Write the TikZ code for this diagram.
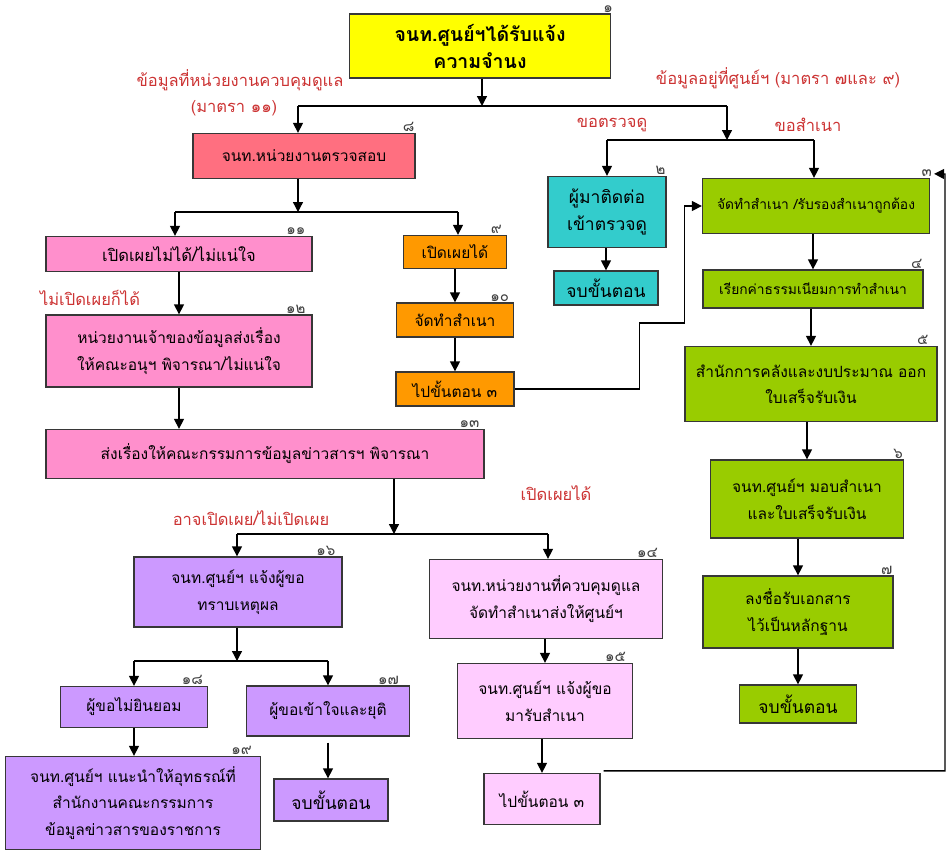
\documentclass[tikz,border=0pt]{standalone}
\usepackage{fontspec}
\newfontfamily\thaifont[Script=Thai]{Loma}
\usepackage{tikz}
\usetikzlibrary{arrows.meta}

\definecolor{boxline}{RGB}{55,55,55}
\definecolor{yelfill}{RGB}{255,255,0}
\definecolor{salfill}{RGB}{255,111,128}
\definecolor{pinkfill}{RGB}{255,143,204}
\definecolor{orgfill}{RGB}{255,153,0}
\definecolor{cyanfill}{RGB}{51,204,204}
\definecolor{grnfill}{RGB}{153,204,0}
\definecolor{purfill}{RGB}{204,153,255}
\definecolor{ltpfill}{RGB}{255,204,255}
\definecolor{lblred}{RGB}{204,51,51}

\begin{document}
\begin{tikzpicture}[x=1pt,y=-1pt,
  box/.style={draw=boxline, line width=1.3pt, align=center, inner sep=0pt,
    font=\thaifont\fontsize{15.5}{26.5}\selectfont},
  bigtxt/.style={font=\thaifont\fontsize{17.5}{27}\selectfont},
  smalltxt/.style={font=\thaifont\fontsize{13.8}{20}\selectfont},
  yel/.style={box, fill=yelfill, font=\thaifont\bfseries\fontsize{19.5}{27}\selectfont},
  sal/.style={box, fill=salfill},
  pnk/.style={box, fill=pinkfill},
  org/.style={box, fill=orgfill},
  cyn/.style={box, fill=cyanfill, bigtxt},
  grn/.style={box, fill=grnfill},
  pur/.style={box, fill=purfill},
  ltp/.style={box, fill=ltpfill},
  num/.style={anchor=south east, inner sep=1pt, text=black!75,
    font=\thaifont\fontsize{15}{15}\selectfont},
  lbl/.style={text=lblred, inner sep=0pt, font=\thaifont\fontsize{16.5}{18}\selectfont},
  ln/.style={line width=1.3pt},
  arr/.style={ln, -{Triangle[length=10pt,width=10pt]}}]

\useasboundingbox (0,0) rectangle (952,851);

% top box and the two paths
\node[yel, minimum width=261pt, minimum height=64pt] (b1) at (480,46) {จนท.ศูนย์ฯได้รับแจ้ง\\ความจำนง};
\node[num] (n1) at ([xshift=3pt]b1.north east) {๑};

\node[lbl] (lA) at (240,80) {ข้อมูลที่หน่วยงานควบคุมดูแล};
\node[lbl] (lB) at (234,108) {(มาตรา ๑๑)};
\node[lbl] (lC) at (778,78) {ข้อมูลอยู่ที่ศูนย์ฯ (มาตรา ๗และ ๙)};
\node[lbl] (lD) at (612,125) {ขอตรวจดู};
\node[lbl] (lE) at (808,125) {ขอสำเนา};

\coordinate (j1) at (482,106);
\coordinate (j1L) at (298,106);
\coordinate (j1R) at (727,106);
\coordinate (j2) at (727,140);
\coordinate (j2L) at (607,140);
\coordinate (j2R) at (814,140);

\draw[arr] (b1.south -| j1) -- (j1);
\draw[ln] (j1L) -- (j1R);
\draw[arr] (j1R) -- (j2);
\draw[ln] (j2L) -- (j2R);

% right hand column (copies)
\node[cyn, minimum width=118pt, minimum height=71pt] (b2) at (607,212) {ผู้มาติดต่อ\\เข้าตรวจดู};
\node[num] (n2) at (b2.north east) {๒};
\node[cyn, minimum width=104pt, minimum height=34pt] (e2) at (606,288) {จบขั้นตอน};

\node[grn, smalltxt, minimum width=227pt, minimum height=55pt] (b3) at (816,206) {จัดทำสำเนา /รับรองสำเนาถูกต้อง};
\node[num] (n3) at ([xshift=3pt]b3.north east) {๓};
\node[grn, smalltxt, minimum width=220pt, minimum height=38pt] (b4) at (813,289) {เรียกค่าธรรมเนียมการทำสำเนา};
\node[num] (n4) at (b4.north east) {๔};
\node[grn, minimum width=252pt, minimum height=75pt] (b5) at (811,384) {สำนักการคลังและงบประมาณ ออก\\ใบเสร็จรับเงิน};
\node[num] (n5) at ([xshift=-8pt]b5.north east) {๕};
\node[grn, minimum width=193pt, minimum height=78pt] (b6) at (807,499) {จนท.ศูนย์ฯ มอบสำเนา\\และใบเสร็จรับเงิน};
\node[num] (n6) at (b6.north east) {๖};
\node[grn, minimum width=190pt, minimum height=72pt] (b7) at (798,612) {ลงชื่อรับเอกสาร\\ไว้เป็นหลักฐาน};
\node[num] (n7) at (b7.north east) {๗};
\node[grn, bigtxt, minimum width=117pt, minimum height=38pt] (e7) at (798,704) {จบขั้นตอน};

\draw[arr] (j2L) -- (j2L |- b2.north);
\draw[arr] (j2R) -- (j2R |- b3.north);
\draw[arr] (b2.south -| e2.north) -- (e2.north);
\foreach \a/\b in {b3/b4,b4/b5,b5/b6,b6/b7,b7/e7}
  \draw[arr] (\a.south -| \b.north) -- (\b.north);

% left hand column (agency)
\node[sal, minimum width=222pt, minimum height=45pt] (b8) at (304,156) {จนท.หน่วยงานตรวจสอบ};
\node[num] (n8) at (b8.north east) {๘};
\draw[arr] (j1L) -- (j1L |- b8.north);

\coordinate (j3) at (298,212);
\coordinate (j3L) at (175,212);
\coordinate (j3R) at (458,212);
\draw[arr] (b8.south -| j3) -- (j3);
\draw[ln] (j3L) -- (j3R);

\node[pnk, font=\thaifont\fontsize{16.5}{26}\selectfont, minimum width=266pt, minimum height=35pt] (b11) at (179,254) {เปิดเผยไม่ได้/ไม่แน่ใจ};
\node[num] (n11) at ([xshift=-6pt]b11.north east) {๑๑};
\node[org, minimum width=103pt, minimum height=33pt] (b9) at (455,252) {เปิดเผยได้};
\node[num] (n9) at ([xshift=-4pt]b9.north east) {๙};
\node[org, minimum width=117pt, minimum height=34pt] (b10) at (455,320) {จัดทำสำเนา};
\node[num] (n10) at ([xshift=-4pt]b10.north east) {๑๐};
\node[org, minimum width=118pt, minimum height=34pt] (g3) at (455,389) {ไปขั้นตอน ๓};

\draw[arr] (j3L) -- (j3L |- b11.north);
\draw[arr] (j3R) -- (j3R |- b9.north);
\draw[arr] (b9) -- (b10);
\draw[arr] (b10) -- (g3);
\draw[arr] (g3.east) -- ++(125,0) |- ++(45,-66) |- (b3.west);

\node[lbl] (lF) at (90,298) {ไม่เปิดเผยก็ได้};
\node[pnk, minimum width=266pt, minimum height=72pt] (b12) at (179,351) {หน่วยงานเจ้าของข้อมูลส่งเรื่อง\\ให้คณะอนุฯ พิจารณา/ไม่แน่ใจ};
\node[num] (n12) at ([xshift=-6pt]b12.north east) {๑๒};
\node[pnk, minimum width=438pt, minimum height=49pt] (b13) at (265,454) {ส่งเรื่องให้คณะกรรมการข้อมูลข่าวสารฯ พิจารณา};
\node[num] (n13) at ([xshift=-4pt]b13.north east) {๑๓};

\draw[arr] (b11.south) -- (b12.north);
\draw[arr] (b12.south) -- (b12.south |- b13.north);

% committee decision
\node[lbl] (lG) at (251,518) {อาจเปิดเผย/ไม่เปิดเผย};
\node[lbl] (lH) at (556,493) {เปิดเผยได้};

\coordinate (j5) at (394,534);
\coordinate (j5L) at (237,534);
\coordinate (j5R) at (548,534);
\draw[arr] (b13.south -| j5) -- (j5);
\draw[ln] (j5L) -- (j5R);

\node[pur, minimum width=208pt, minimum height=70pt] (b16) at (238,592) {จนท.ศูนย์ฯ แจ้งผู้ขอ\\ทราบเหตุผล};
\node[num] (n16) at ([xshift=-6pt]b16.north east) {๑๖};
\node[ltp, minimum width=233pt, minimum height=79pt] (b14) at (546,599) {จนท.หน่วยงานที่ควบคุมดูแล\\จัดทำสำเนาส่งให้ศูนย์ฯ};
\node[num] (n14) at ([xshift=-4pt]b14.north east) {๑๔};
\draw[arr] (j5L) -- (j5L |- b16.north);
\draw[arr] (j5R) -- (j5R |- b14.north);

\coordinate (j6) at (237,661);
\coordinate (j6L) at (134,661);
\coordinate (j6R) at (328,661);
\draw[arr] (b16.south -| j6) -- (j6);
\draw[ln] (j6L) -- (j6R);

\node[pur, minimum width=147pt, minimum height=41pt] (b18) at (134,707) {ผู้ขอไม่ยินยอม};
\node[num] (n18) at ([xshift=-4pt]b18.north east) {๑๘};
\node[pur, minimum width=163pt, minimum height=50pt] (b17) at (328,711) {ผู้ขอเข้าใจและยุติ};
\node[num] (n17) at ([xshift=-10pt]b17.north east) {๑๗};
\node[pur, minimum width=255pt, minimum height=93pt] (b19) at (133,803) {จนท.ศูนย์ฯ แนะนำให้อุทธรณ์ที่\\สำนักงานคณะกรรมการ\\ข้อมูลข่าวสารของราชการ};
\node[num] (n19) at ([xshift=-8pt]b19.north east) {๑๙};
\node[pur, bigtxt, minimum width=114pt, minimum height=42pt] (e17) at (331,800) {จบขั้นตอน};

\draw[arr] (j6L) -- (j6L |- b18.north);
\draw[arr] (j6R) -- (j6R |- b17.north);
\draw[arr] (b18) -- (b18 |- b19.north);
\draw[arr] ([yshift=-6pt]b17.south) -- (b17.south |- e17.north);

\node[ltp, minimum width=175pt, minimum height=75pt] (b15) at (545,701) {จนท.ศูนย์ฯ แจ้งผู้ขอ\\มารับสำเนา};
\node[num] (n15) at ([xshift=-6pt]b15.north east) {๑๕};
\node[ltp, minimum width=116pt, minimum height=51pt] (g15) at (542,799) {ไปขั้นตอน ๓};

\draw[arr] (b14.south -| b15.north) -- (b15.north);
\draw[arr] (b15.south -| g15.north) -- (g15.north);

% back to step 3
\coordinate (r3) at ([xshift=4pt,yshift=4pt]b3.north east);
\coordinate (rr) at (945,174);
\draw[arr] ([xshift=3pt,yshift=2pt]g15.north east) -| (rr) -- (r3);

\end{tikzpicture}
\end{document}
